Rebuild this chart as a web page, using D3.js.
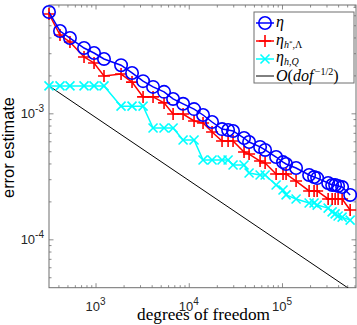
<!DOCTYPE html>
<html><head><meta charset="utf-8">
<script src="https://cdn.jsdelivr.net/npm/d3@7"></script>
<style>body{margin:0;background:#fff}</style></head><body>
<svg id="c" width="357" height="325"></svg>
<script>
// ---- data ----
const dof = [317,416,532,753,964,1233,1879,2464,3236,4140,5433,6792,8690,11400,14230,17780,22750,26420,29860,39180,44360,58210,65900,86480,102600,110600,141600,195400,220800,238200,312600,345100,371500,399900,441600,538300];
const eta = [6.37e-3,4.50e-3,3.96e-3,3.30e-3,3.01e-3,2.70e-3,2.41e-3,2.09e-3,1.80e-3,1.62e-3,1.48e-3,1.30e-3,1.19e-3,1.08e-3,9.70e-4,8.53e-4,7.50e-4,7.37e-4,7.24e-4,6.37e-4,5.92e-4,5.41e-4,5.12e-4,4.50e-4,4.10e-4,3.96e-4,3.68e-4,3.24e-4,3.12e-4,3.06e-4,2.80e-4,2.70e-4,2.70e-4,2.65e-4,2.60e-4,2.25e-4];
const etaHLambda = [6.14e-3,4.18e-3,3.68e-3,2.80e-3,2.51e-3,1.98e-3,2.05e-3,1.77e-3,1.35e-3,1.35e-3,1.21e-3,9.87e-4,9.87e-4,8.69e-4,8.38e-4,7.11e-4,6.03e-4,6.03e-4,6.03e-4,4.93e-4,4.75e-4,4.18e-4,4.03e-4,3.30e-4,3.30e-4,3.30e-4,2.90e-4,2.42e-4,2.42e-4,2.42e-4,2.09e-4,2.09e-4,2.09e-4,2.09e-4,2.09e-4,1.71e-4];
const etaHQ = [1.65e-3,1.65e-3,1.65e-3,1.65e-3,1.65e-3,1.65e-3,1.14e-3,1.14e-3,1.14e-3,7.64e-4,7.64e-4,7.64e-4,6.14e-4,6.14e-4,4.26e-4,4.26e-4,4.26e-4,4.26e-4,3.89e-4,3.89e-4,3.36e-4,3.24e-4,3.24e-4,2.70e-4,2.46e-4,2.25e-4,2.09e-4,1.94e-4,1.94e-4,1.87e-4,1.77e-4,1.65e-4,1.59e-4,1.53e-4,1.50e-4,1.42e-4];
const refExponent = -0.5;
const xMajor = [1e3,1e4,1e5];
const xExp = ["3","4","5"];
const yMajor = [1e-4,1e-3];
const yExp = ["-4","-3"];
const xDomain = [317, 6.22e5];
const yDomain = [4.13e-5, 7.24e-3];

// ---- layout ----
const L=49,R=356,T=5,B=287.7;
const svg=d3.select("#c");
const x=d3.scaleLog().domain(xDomain).range([L,R]);
const y=d3.scaleLog().domain(yDomain).range([B,T]);
const axCol="#6f6f6f";

function minors(dom){
  const out=[];
  for(let e=Math.floor(Math.log10(dom[0]))-1;e<=Math.ceil(Math.log10(dom[1]));e++){
    for(let k=2;k<=9;k++){const v=k*Math.pow(10,e); if(v>=dom[0]&&v<=dom[1]) out.push(v);}
  }
  return out;
}
const xMin=minors(xDomain), yMin=minors(yDomain);

const ax=svg.append("g");
function styleAxis(g){g.select(".domain").remove();g.selectAll("line").attr("stroke",axCol).attr("stroke-width",0.8);g.selectAll("text").remove();}
ax.append("g").attr("transform",`translate(0,${B})`).call(d3.axisBottom(x).tickValues(xMajor).tickSize(-4.5)).call(styleAxis);
ax.append("g").attr("transform",`translate(0,${B})`).call(d3.axisBottom(x).tickValues(xMin).tickSize(-2.5)).call(styleAxis);
ax.append("g").attr("transform",`translate(0,${T})`).call(d3.axisTop(x).tickValues(xMajor).tickSize(-4.5)).call(styleAxis);
ax.append("g").attr("transform",`translate(0,${T})`).call(d3.axisTop(x).tickValues(xMin).tickSize(-2.5)).call(styleAxis);
ax.append("g").attr("transform",`translate(${L},0)`).call(d3.axisLeft(y).tickValues(yMajor).tickSize(-4.5)).call(styleAxis);
ax.append("g").attr("transform",`translate(${L},0)`).call(d3.axisLeft(y).tickValues(yMin).tickSize(-2.5)).call(styleAxis);
ax.append("g").attr("transform",`translate(${R},0)`).call(d3.axisRight(y).tickValues(yMajor).tickSize(-4.5)).call(styleAxis);
ax.append("g").attr("transform",`translate(${R},0)`).call(d3.axisRight(y).tickValues(yMin).tickSize(-2.5)).call(styleAxis);
ax.append("rect").attr("x",L).attr("y",T).attr("width",R-L).attr("height",B-T).attr("fill","none").attr("stroke",axCol).attr("stroke-width",1);

// tick labels
const tf="'Liberation Sans',Arial,sans-serif";
xMajor.forEach((v,i)=>{
  const t=svg.append("text").attr("x",x(v)).attr("y",311).attr("text-anchor","middle").attr("font-family",tf).attr("font-size",13).attr("fill","#262626");
  t.append("tspan").text("10");
  t.append("tspan").attr("dy",-6.5).attr("font-size",10).text(xExp[i]);
});
yMajor.forEach((v,i)=>{
  const t=svg.append("text").attr("x",44).attr("y",y(v)+5).attr("text-anchor","end").attr("font-family",tf).attr("font-size",13).attr("fill","#262626");
  t.append("tspan").text("10");
  t.append("tspan").attr("dy",-6.5).attr("font-size",10).text(yExp[i]);
});

// axis titles
const xl=svg.append("text").attr("x",203.5).attr("y",320).attr("text-anchor","middle").attr("font-family","'Liberation Serif','Times New Roman',serif").attr("font-size",15).attr("fill","#000").text("degrees of freedom");
const xlw=xl.node().getComputedTextLength(); xl.attr("font-size",15*133/xlw);
const yl=svg.append("text").attr("transform",`translate(13.5,147.5) rotate(-90)`).attr("text-anchor","middle").attr("font-family",tf).attr("font-size",16).attr("fill","#000").text("error estimate");
const ylw=yl.node().getComputedTextLength(); yl.attr("font-size",16*101/ylw);

// ---- series ----
const clipId="pclip";
svg.append("clipPath").attr("id",clipId).append("rect").attr("x",L).attr("y",T).attr("width",R-L).attr("height",B-T);
const refC=etaHQ[0]/Math.pow(dof[0],refExponent);
const refVals=dof.map(d=>refC*Math.pow(d,refExponent));
const line=d3.line().x(d=>x(d[0])).y(d=>y(d[1]));
svg.append("path").attr("clip-path",`url(#${clipId})`).attr("d",line([[dof[0],refVals[0]],[dof[dof.length-1],refVals[refVals.length-1]]])).attr("fill","none").attr("stroke","#000").attr("stroke-width",1);

const series=[
  {vals:etaHQ,color:"#00ffff",marker:"x"},
  {vals:etaHLambda,color:"#ff0000",marker:"plus"},
  {vals:eta,color:"#0000ff",marker:"circle"}
];
function drawMarker(g,type,cx,cy,color){
  if(type==="circle") g.append("circle").attr("cx",cx).attr("cy",cy).attr("r",6.2).attr("fill","none").attr("stroke",color).attr("stroke-width",1.6);
  else if(type==="plus") g.append("path").attr("d",`M${cx-6},${cy}H${cx+6}M${cx},${cy-6}V${cy+6}`).attr("stroke",color).attr("stroke-width",1.6);
  else g.append("path").attr("d",`M${cx-4.5},${cy-4.5}L${cx+4.5},${cy+4.5}M${cx-4.5},${cy+4.5}L${cx+4.5},${cy-4.5}`).attr("stroke",color).attr("stroke-width",1.6);
}
series.forEach(s=>{
  const pts=dof.map((d,i)=>[d,s.vals[i]]);
  svg.append("path").attr("d",line(pts)).attr("fill","none").attr("stroke",s.color).attr("stroke-width",1.5);
  const g=svg.append("g");
  pts.forEach(p=>drawMarker(g,s.marker,x(p[0]),y(p[1]),s.color));
});

// ---- legend ----
const lg=svg.append("g");
lg.append("rect").attr("x",254).attr("y",12).attr("width",100).attr("height",71).attr("fill","#fff").attr("stroke",axCol).attr("stroke-width",1);
const entries=[
  {color:"#0000ff",marker:"circle",y:23},
  {color:"#ff0000",marker:"plus",y:41},
  {color:"#00ffff",marker:"x",y:59},
  {color:"#000000",marker:null,y:76}
];
entries.forEach(e=>{
  lg.append("line").attr("x1",256).attr("x2",274).attr("y1",e.y).attr("y2",e.y).attr("stroke",e.color).attr("stroke-width",e.marker?1.5:1);
  if(e.marker) drawMarker(lg,e.marker,265,e.y,e.color);
});
const sf="'Liberation Serif','Times New Roman',serif";
function ltext(yy){return lg.append("text").attr("x",276).attr("y",yy).attr("font-family",sf).attr("font-size",16).attr("fill","#000");}
let t=ltext(27); t.append("tspan").attr("font-style","italic").text("η");
t=ltext(45); t.append("tspan").attr("font-style","italic").text("η");
t.append("tspan").attr("dy",2.5).attr("font-size",10).attr("font-style","italic").text("h");
t.append("tspan").attr("dy",-3).attr("font-size",7).text("*");
t.append("tspan").attr("dy",3).attr("font-size",10).text(",Λ");
t=ltext(62); t.append("tspan").attr("font-style","italic").text("η");
t.append("tspan").attr("dy",2.5).attr("font-size",10).attr("font-style","italic").text("h");
t.append("tspan").attr("font-size",10).text(",");
t.append("tspan").attr("font-size",10).attr("font-style","italic").text("Q");
t=ltext(81); t.append("tspan").attr("font-style","italic").text("O");
t.append("tspan").text("(");
t.append("tspan").attr("font-style","italic").text("dof");
t.append("tspan").attr("dx",1.5).attr("dy",-6.5).attr("font-size",10).text("−1/2");
t.append("tspan").attr("dy",6.5).text(")");
</script>
</body></html>
